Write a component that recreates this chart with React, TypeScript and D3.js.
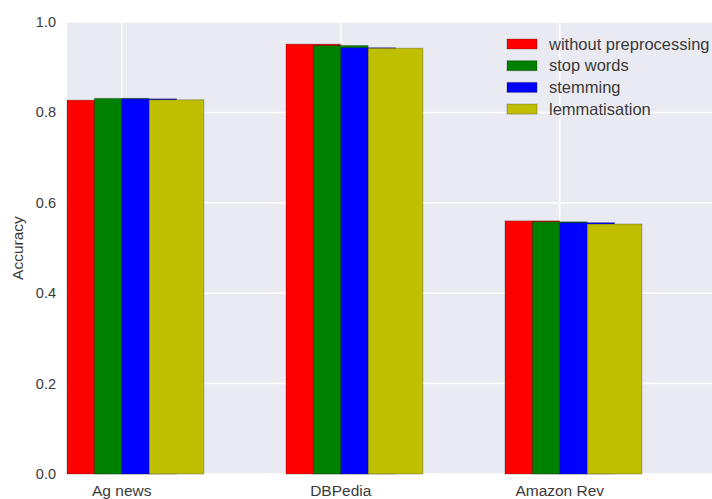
import React from "react";
import * as d3 from "d3";

const categories = ["Ag news", "DBPedia", "Amazon Rev"];
const seriesNames = ["without preprocessing", "stop words", "stemming", "lemmatisation"];
const seriesColors = ["#ff0000", "#008000", "#0000ff", "#bfbf00"];
const withoutPreprocessing = [0.827, 0.951, 0.560];
const stopWords = [0.831, 0.948, 0.558];
const stemming = [0.830, 0.943, 0.556];
const lemmatisation = [0.828, 0.942, 0.553];
const seriesValues = [withoutPreprocessing, stopWords, stemming, lemmatisation];
const yTicks = [0.0, 0.2, 0.4, 0.6, 0.8, 1.0];

const W = 712;
const H = 499;
const left = 67;
const top = 22;
const bottom = 474;
const barWidth = 0.25;
const offsetStep = 0.125;

export default function App() {
  const x = d3.scaleLinear().domain([0, 3]).range([left, left + 219 * 3]);
  const y = d3.scaleLinear().domain([0, 1]).range([bottom, top]);
  const font = "'Liberation Sans', Arial, sans-serif";
  const textColor = "#3a3a3a";

  return (
    <svg
      width={W}
      height={H}
      style={{ position: "absolute", left: 0, top: 0, display: "block", background: "#ffffff" }}
    >
      <rect x={left} y={top} width={W - left} height={bottom - top} fill="#eaeaf2" />
      {yTicks.map((t) => (
        <line key={"gy" + t} x1={left} x2={W} y1={y(t)} y2={y(t)} stroke="#ffffff" strokeWidth={1.5} />
      ))}
      {categories.map((c, i) => (
        <line
          key={"gx" + c}
          x1={x(i + barWidth)}
          x2={x(i + barWidth)}
          y1={top}
          y2={bottom}
          stroke="#ffffff"
          strokeWidth={1.5}
        />
      ))}
      {seriesValues.map((vals, s) =>
        vals.map((v, i) => (
          <rect
            key={"b" + s + "-" + i}
            x={x(i + s * offsetStep)}
            y={y(v)}
            width={x(i + s * offsetStep + barWidth) - x(i + s * offsetStep)}
            height={y(0) - y(v)}
            fill={seriesColors[s]}
            stroke="rgba(0,0,0,0.25)"
            strokeWidth={1}
          />
        ))
      )}
      {yTicks.map((t) => (
        <text
          key={"ty" + t}
          x={56}
          y={y(t)}
          dy="0.35em"
          textAnchor="end"
          fontFamily={font}
          fontSize={14.5}
          fill={textColor}
        >
          {t.toFixed(1)}
        </text>
      ))}
      {categories.map((c, i) => (
        <text
          key={"tx" + c}
          x={x(i + barWidth)}
          y={496}
          textAnchor="middle"
          fontFamily={font}
          fontSize={15.5}
          fill={textColor}
        >
          {c}
        </text>
      ))}
      <text
        transform={`translate(23, ${(top + bottom) / 2}) rotate(-90)`}
        textAnchor="middle"
        fontFamily={font}
        fontSize={15.5}
        fill={textColor}
      >
        Accuracy
      </text>
      {seriesNames.map((n, s) => (
        <g key={"lg" + n} transform={`translate(507, ${44 + s * 21.7})`}>
          <rect x={0} y={-5} width={30} height={10} fill={seriesColors[s]} stroke="rgba(0,0,0,0.25)" />
          <text x={42} y={0} dy="0.35em" fontFamily={font} fontSize={16.5} fill={textColor}>
            {n}
          </text>
        </g>
      ))}
    </svg>
  );
}
